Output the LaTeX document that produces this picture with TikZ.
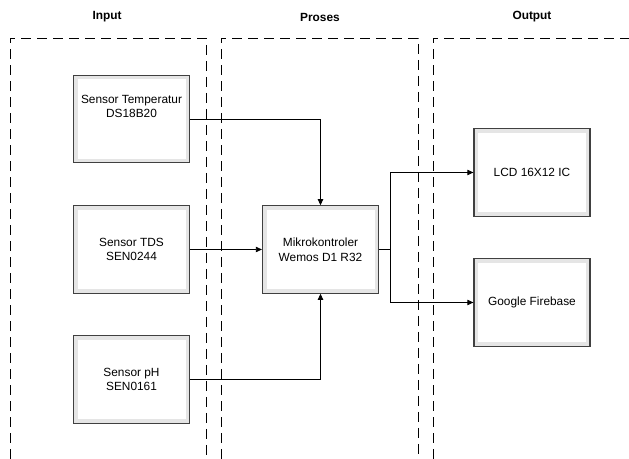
\documentclass[tikz,border=0pt]{standalone}
\usepackage{fontspec}
\setmainfont{Liberation Sans}
\usetikzlibrary{arrows.meta}

\tikzset{
 block/.style={draw=black!75,line width=0.9pt,fill=black!10,minimum width=87pt,minimum height=65.5pt,
  align=center,font=\fontsize{8.9}{11}\selectfont,inner sep=0pt,
  path picture={\fill[white] ([shift={(3pt,-3pt)}]path picture bounding box.north west) rectangle ([shift={(-3pt,3pt)}]path picture bounding box.south east);}},
 lane/.style={draw=black,line width=0.6pt,dash pattern=on 7.5pt off 4.5pt},
 title/.style={font=\bfseries\fontsize{8.9}{11}\selectfont},
 link/.style={draw=black,line width=0.6pt,-{Triangle[length=4.5pt,width=4pt]}}
}

\begin{document}
\begin{tikzpicture}[x=0.75pt,y=-0.75pt]
 \useasboundingbox (0,0) rectangle (629,459);

 % lanes
 \draw[lane] (10,459) -- (10,38) -- (206,38) -- (206,459);
 \draw[lane] (221,459) -- (221,38) -- (418,38) -- (418,459);
 \draw[lane] (433,459) -- (433,38) -- (629,38);
 \node[title] (tin) at (107,17) {Input};
 \node[title] (tproc) at (320,17) {Proses};
 \node[title] (tout) at (532,17) {Output};

 % blocks
 \node[block] (temp) at (131.5,119) {Sensor Temperatur\\DS18B20\\[8pt]};
 \node[block] (tds) at (131.5,249.5) {Sensor TDS\\SEN0244};
 \node[block] (ph) at (131.5,379.5) {Sensor pH\\SEN0161};
 \node[block] (mcu) at (320.5,249.5) {Mikrokontroler\\Wemos D1 R32};
 \node[block] (lcd) at (532,172.5) {LCD 16X12 IC};
 \node[block] (fb) at (532,302.5) {Google Firebase};

 % connectors
 \draw[link] (temp.east) -| (mcu.north);
 \draw[link] (tds.east) -- (mcu.west);
 \draw[link] (ph.east) -| (mcu.south);
 \coordinate (split) at (390,249.5);
 \draw[line width=0.6pt] (mcu.east) -- (split);
 \draw[link] (split) |- (lcd.west);
 \draw[link] (split) |- (fb.west);
\end{tikzpicture}
\end{document}
